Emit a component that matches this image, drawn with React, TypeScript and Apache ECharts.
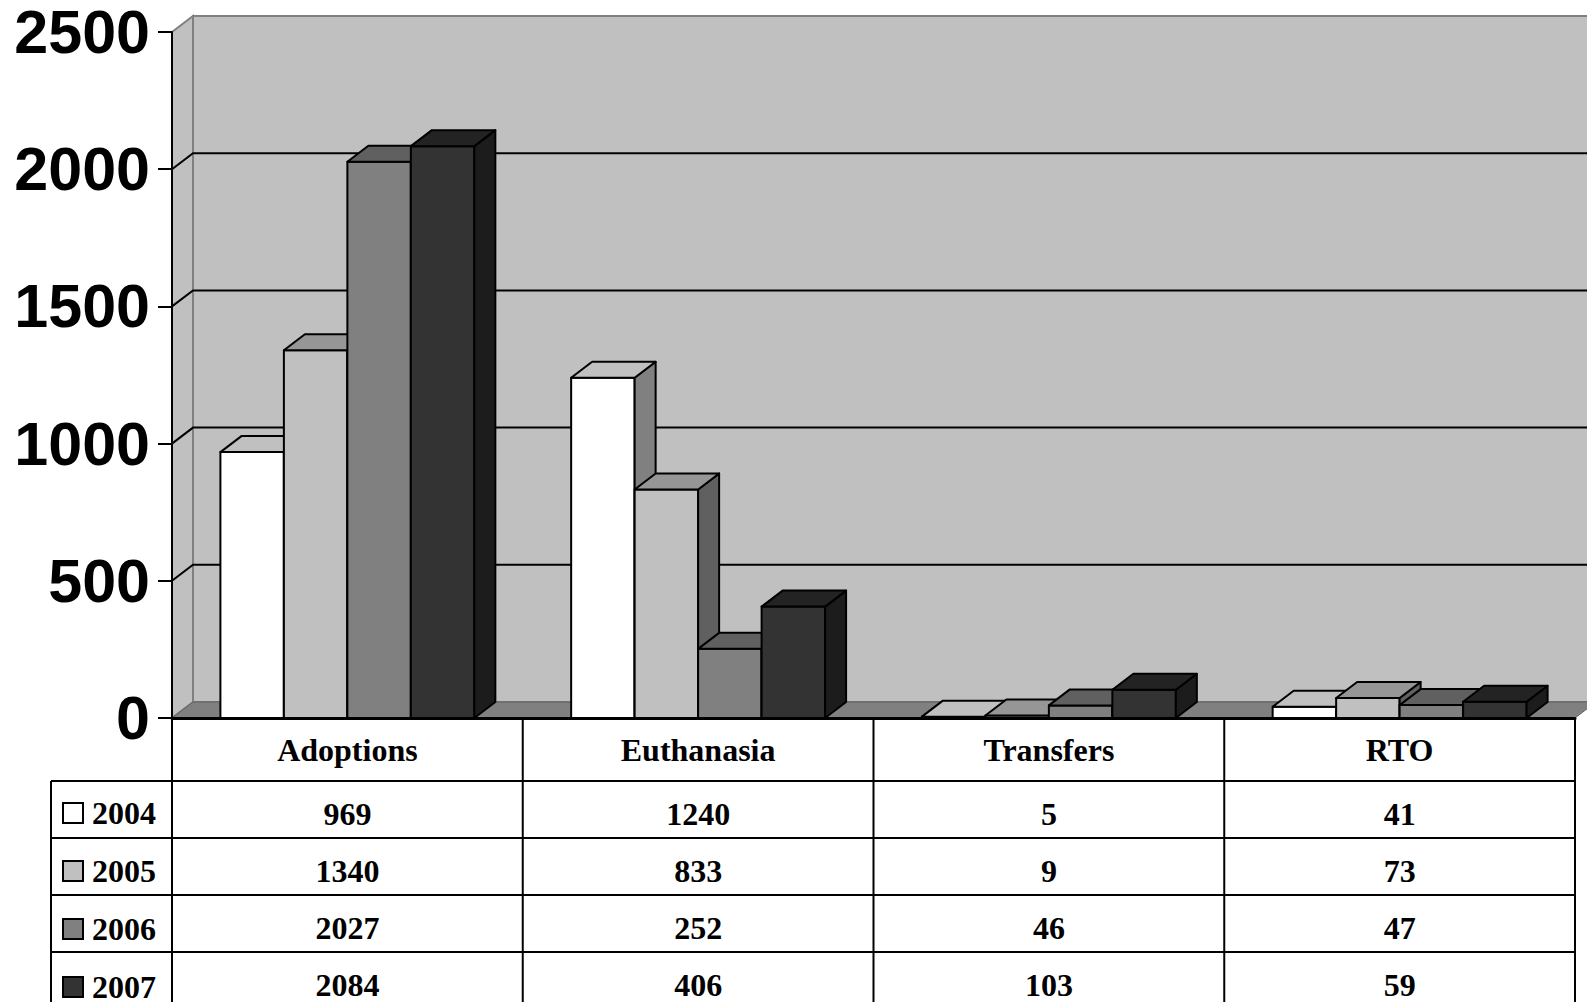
import React, { useEffect, useRef } from 'react';
import * as echarts from 'echarts';

const categories = ['Adoptions', 'Euthanasia', 'Transfers', 'RTO'];
const years = ['2004', '2005', '2006', '2007'];
const values2004 = [969, 1240, 5, 41];
const values2005 = [1340, 833, 9, 73];
const values2006 = [2027, 252, 46, 47];
const values2007 = [2084, 406, 103, 59];
const yTicks = [0, 500, 1000, 1500, 2000, 2500];

const seriesValues = [values2004, values2005, values2006, values2007];
const frontColors = ['#ffffff', '#c0c0c0', '#808080', '#333333'];
const topColors = ['#c0c0c0', '#969696', '#606060', '#232323'];
const sideColors = ['#808080', '#606060', '#404040', '#1c1c1c'];

const DX = 21;
const DY = -16;
const HEADER_H = 63;
const ROW_H = 57;
const LEGEND_COL_W = 121;
const SERIF = '"Liberation Serif", "Times New Roman", serif';
const SANS = '"Liberation Sans", Arial, sans-serif';

export default function App() {
  const ref = useRef<HTMLDivElement>(null);
  useEffect(() => {
    if (!ref.current) return;
    const chart = echarts.init(ref.current, null, { renderer: 'svg' });
    const yMax = yTicks[yTicks.length - 1];

    const wallsSeries: any = {
      type: 'custom',
      name: 'walls',
      silent: true,
      z: 1,
      data: [[0, 0]],
      encode: { x: 0, y: 1 },
      renderItem: (params: any, api: any) => {
        const c0 = api.coord([0, 0]);
        const catW = api.size([1, 0])[0];
        const L = c0[0] - catW / 2;
        const R = L + catW * categories.length;
        const yb = c0[1];
        const yt = api.coord([0, yMax])[1];
        const tableBottom = yb + HEADER_H + ROW_H * years.length;
        const children: any[] = [
          {
            type: 'rect',
            shape: { x: L + DX, y: yt + DY, width: R - L, height: yb - yt },
            style: { fill: '#c0c0c0', stroke: '#808080', lineWidth: 2 },
          },
          {
            type: 'polygon',
            shape: { points: [[L, yt], [L + DX, yt + DY], [L + DX, yb + DY], [L, yb]] },
            style: { fill: '#c0c0c0', stroke: '#808080', lineWidth: 2 },
          },
          {
            type: 'polygon',
            shape: { points: [[L, yb], [R, yb], [R + DX, yb + DY], [L + DX, yb + DY]] },
            style: { fill: '#808080', stroke: '#606060', lineWidth: 1 },
          },
        ];
        yTicks.forEach((t) => {
          if (t <= 0 || t >= yMax) return;
          const y = api.coord([0, t])[1];
          children.push({
            type: 'polyline',
            shape: { points: [[L, y], [L + DX, y + DY], [R + DX, y + DY]] },
            style: { fill: 'none', stroke: '#000', lineWidth: 2 },
          });
        });
        // table lines
        const lineStyle = { stroke: '#000', lineWidth: 2 };
        for (let k = 0; k <= categories.length; k++) {
          const x = L + k * catW;
          children.push({ type: 'line', shape: { x1: x, y1: yb, x2: x, y2: tableBottom }, style: lineStyle });
        }
        const legL = L - LEGEND_COL_W;
        children.push({ type: 'line', shape: { x1: legL, y1: yb + HEADER_H, x2: legL, y2: tableBottom }, style: lineStyle });
        for (let r = 0; r < years.length; r++) {
          const y = yb + HEADER_H + r * ROW_H;
          children.push({ type: 'line', shape: { x1: legL, y1: y, x2: R, y2: y }, style: lineStyle });
        }
        return { type: 'group', children };
      },
    };

    const barSeries = years.map((yr, si) => ({
      type: 'custom',
      name: yr,
      z: 2,
      itemStyle: { color: frontColors[si] },
      data: seriesValues[si].map((v, i) => [i, v]),
      encode: { x: 0, y: 1 },
      renderItem: (params: any, api: any) => {
        const ci = api.value(0);
        const v = api.value(1);
        const base = api.coord([ci, 0]);
        const top = api.coord([ci, v]);
        const catW = api.size([1, 0])[0];
        const groupW = catW * 0.724;
        const bw = groupW / 4;
        const x0 = base[0] - groupW / 2 + si * bw;
        const x1 = x0 + bw;
        const y0 = base[1];
        const y1 = top[1];
        const st = { stroke: '#000', lineWidth: 2, lineJoin: 'round' };
        return {
          type: 'group',
          children: [
            {
              type: 'rect',
              shape: { x: x0, y: y1, width: bw, height: y0 - y1 },
              style: { ...st, fill: frontColors[si] },
            },
            {
              type: 'polygon',
              shape: { points: [[x1, y1], [x1 + DX, y1 + DY], [x1 + DX, y0 + DY], [x1, y0]] },
              style: { ...st, fill: sideColors[si] },
            },
            {
              type: 'polygon',
              shape: { points: [[x0, y1], [x0 + DX, y1 + DY], [x1 + DX, y1 + DY], [x1, y1]] },
              style: { ...st, fill: topColors[si] },
            },
            {
              type: 'text',
              style: {
                text: String(v),
                x: base[0],
                y: y0 + HEADER_H + ROW_H * si + ROW_H / 2 + 4,
                align: 'center',
                verticalAlign: 'middle',
                fill: '#000',
                font: 'bold 32px ' + SERIF,
              },
            },
          ],
        };
      },
    }));

    chart.setOption({
      animation: false,
      backgroundColor: '#ffffff',
      grid: { left: 172, right: 12, top: 32, bottom: 284, containLabel: false },
      legend: {
        orient: 'vertical',
        left: 62,
        top: 797,
        height: 320,
        padding: 0,
        itemGap: 26,
        itemWidth: 20,
        itemHeight: 20,
        icon: 'rect',
        selectedMode: false,
        data: years,
        itemStyle: { borderColor: '#000', borderWidth: 2 },
        textStyle: {
          fontFamily: SERIF,
          fontWeight: 'bold',
          fontSize: 32,
          color: '#000',
          lineHeight: 30,
          padding: [0, 0, 0, 4],
        },
      },
      xAxis: {
        type: 'category',
        data: categories,
        z: 5,
        axisLine: { show: true, lineStyle: { color: '#000', width: 3 } },
        axisTick: { show: false },
        axisLabel: {
          margin: 32,
          verticalAlign: 'middle',
          fontFamily: SERIF,
          fontWeight: 'bold',
          fontSize: 32,
          color: '#000',
        },
        splitLine: { show: false },
      },
      yAxis: {
        type: 'value',
        min: 0,
        max: 2500,
        interval: 500,
        z: 5,
        axisLine: { show: true, lineStyle: { color: '#000', width: 2 } },
        axisTick: { show: true, length: 14, lineStyle: { color: '#000', width: 2 } },
        axisLabel: {
          margin: 22,
          formatter: (v: number) => String(v),
          fontFamily: SANS,
          fontWeight: 'bold',
          fontSize: 61,
          color: '#000',
        },
        splitLine: { show: false },
      },
      series: [wallsSeries, ...barSeries],
    });
    return () => chart.dispose();
  }, []);
  return (
    <div
      ref={ref}
      style={{ position: 'absolute', left: 0, top: 0, width: 1587, height: 1002 }}
    />
  );
}
